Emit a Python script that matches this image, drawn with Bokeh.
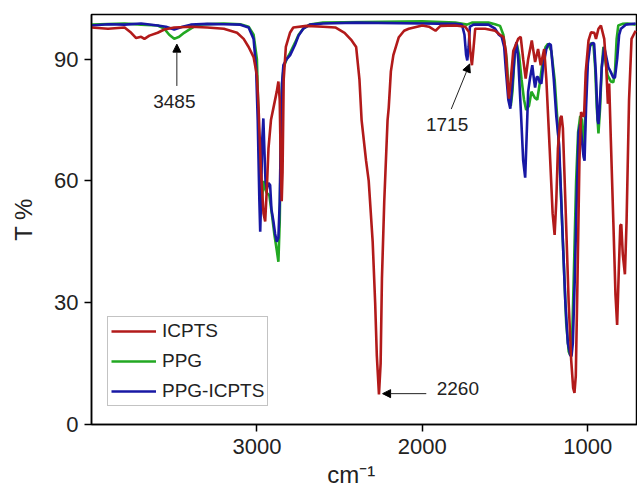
from bokeh.plotting import figure
from bokeh.models import (Range1d, FixedTicker, Legend, LegendItem, Label, Arrow, NormalHead)
from bokeh.embed import file_html
from bokeh.resources import INLINE

# ---------------- data ----------------
icpts_wn = [4000, 3900, 3800, 3760, 3730, 3700, 3680, 3650, 3600, 3560, 3500, 3400, 3300, 3200,
            3120, 3080, 3050, 3020, 3000, 2990, 2975, 2960, 2950, 2940, 2930, 2915, 2900, 2880,
            2870, 2862, 2855, 2850, 2845, 2838, 2825, 2800, 2780, 2700, 2600, 2526, 2470, 2427,
            2400, 2380, 2367, 2340, 2324, 2300, 2285, 2275, 2262, 2252, 2244, 2230, 2223, 2210,
            2203, 2190, 2175, 2142, 2110, 2082, 2000, 1960, 1920, 1890, 1800, 1740, 1718, 1710,
            1700, 1692, 1680, 1620, 1560, 1530, 1510, 1495, 1485, 1476, 1465, 1450, 1420, 1405,
            1390, 1375, 1360, 1338, 1318, 1300, 1284, 1263, 1250, 1230, 1212, 1200, 1190, 1180,
            1165, 1158, 1150, 1135, 1115, 1100, 1088, 1080, 1072, 1062, 1050, 1040, 1030, 1022,
            1012, 995, 980, 960, 950, 935, 920, 900, 888, 878, 870, 860, 845, 832, 822, 812,
            803, 797, 788, 775, 765, 750, 735, 710]
icpts_t = [97.8, 97.5, 97.8, 96.5, 95.2, 95.5, 95.0, 95.8, 96.5, 97.3, 97.8, 98.0, 97.8, 97.5,
           96.5, 95.0, 93.0, 90.5, 86.0, 78.0, 62.0, 52.0, 50.0, 58.0, 68.0, 75.0, 78.0, 82.0,
           84.5, 80.0, 62.0, 55.0, 62.0, 85.0, 93.0, 96.5, 97.8, 98.2, 98.0, 97.8, 96.5, 94.6,
           93.0, 85.0, 75.0, 65.0, 60.0, 45.0, 30.0, 17.0, 7.4, 15.0, 36.0, 55.0, 62.0, 75.0,
           78.0, 87.0, 91.0, 95.4, 97.0, 97.5, 98.3, 98.0, 97.0, 98.2, 98.3, 98.0, 96.7, 92.0,
           88.5, 92.0, 97.5, 97.5, 97.0, 96.0, 95.5, 92.0, 85.0, 80.3, 85.0, 92.0, 95.0, 95.5,
           90.0, 85.2, 90.0, 94.6, 89.3, 92.5, 88.5, 92.5, 85.0, 68.0, 52.0, 46.7, 55.0, 68.0,
           75.5, 76.0, 73.0, 55.0, 30.0, 16.0, 9.0, 7.8, 12.0, 35.0, 65.0, 77.0, 76.0, 76.0,
           86.8, 94.6, 96.6, 96.5, 95.0, 97.5, 98.3, 95.0, 88.0, 79.0, 84.0, 70.0, 50.0, 32.0,
           24.5, 38.0, 49.0, 49.3, 42.0, 37.0, 50.0, 80.0, 95.0, 97.0]

ppg_wn = [4000, 3800, 3700, 3600, 3560, 3530, 3500, 3470, 3440, 3400, 3360, 3200, 3100, 3050,
          3020, 3000, 2990, 2980, 2972, 2960, 2950, 2940, 2925, 2910, 2895, 2880, 2870, 2862,
          2855, 2848, 2838, 2820, 2800, 2770, 2748, 2720, 2680, 2600, 2000, 1800, 1730, 1700,
          1600, 1560, 1530, 1510, 1490, 1475, 1465, 1455, 1440, 1430, 1415, 1400, 1385, 1372,
          1355, 1340, 1320, 1305, 1290, 1270, 1255, 1240, 1220, 1200, 1180, 1165, 1150, 1130,
          1115, 1105, 1095, 1085, 1070, 1058, 1045, 1035, 1025, 1018, 1008, 995, 980, 965,
          955, 945, 935, 925, 915, 905, 895, 880, 860, 845, 835, 825, 815, 790, 760, 710]
ppg_t = [98.5, 98.8, 98.5, 98.3, 97.5, 96.0, 95.0, 95.5, 96.5, 97.5, 98.5, 98.8, 98.6, 98.0,
         96.0, 90.0, 75.0, 60.0, 54.0, 60.0, 58.0, 57.0, 56.5, 52.0, 47.0, 43.0, 40.1, 50.0,
         70.0, 84.0, 88.0, 90.0, 91.5, 94.0, 96.0, 97.5, 98.5, 99.0, 99.3, 99.0, 98.5, 99.0,
         99.0, 98.6, 98.2, 96.0, 90.0, 80.0, 78.5, 82.0, 92.0, 94.0, 91.0, 85.0, 80.0, 77.5,
         78.5, 82.0, 80.5, 80.0, 84.0, 90.0, 93.0, 93.8, 92.0, 85.0, 73.0, 60.0, 45.0, 25.0,
         18.0, 17.0, 20.0, 35.0, 60.0, 72.0, 76.0, 75.0, 68.0, 72.0, 86.0, 92.0, 94.0, 93.5,
         88.0, 78.0, 71.7, 78.0, 88.0, 93.0, 90.0, 86.0, 84.5, 84.3, 87.0, 95.0, 98.3, 98.7,
         98.8, 98.5]

ppgicpts_wn = [4000, 3900, 3800, 3700, 3600, 3550, 3500, 3450, 3400, 3300, 3200, 3100, 3050,
               3020, 3005, 2995, 2985, 2980, 2975, 2968, 2961, 2955, 2948, 2940, 2930, 2920,
               2912, 2900, 2890, 2880, 2870, 2862, 2855, 2848, 2840, 2820, 2799, 2770, 2748,
               2720, 2680, 2600, 2400, 2000, 1800, 1760, 1745, 1735, 1728, 1720, 1712, 1690,
               1600, 1560, 1537, 1520, 1505, 1496, 1480, 1468, 1455, 1440, 1431, 1420, 1405,
               1390, 1378, 1370, 1360, 1350, 1335, 1325, 1318, 1308, 1300, 1290, 1280, 1270,
               1250, 1235, 1223, 1205, 1190, 1173, 1150, 1135, 1120, 1105, 1098, 1090, 1078,
               1065, 1055, 1045, 1035, 1025, 1019, 1010, 999, 985, 970, 961, 950, 940, 935,
               928, 915, 900, 890, 875, 860, 845, 835, 822, 810, 799, 770, 710]
ppgicpts_t = [98.3, 98.6, 98.5, 98.8, 98.3, 98.0, 97.3, 98.0, 98.5, 98.7, 98.6, 98.5, 97.8,
              95.0, 88.0, 75.0, 55.0, 47.5, 55.0, 70.0, 75.4, 68.0, 60.0, 58.0, 59.5, 59.0,
              53.0, 50.0, 47.0, 45.0, 46.0, 55.0, 72.0, 84.0, 88.5, 90.0, 91.0, 93.5, 95.8,
              97.5, 98.5, 98.8, 99.0, 98.8, 98.7, 98.5, 96.0, 91.0, 89.7, 93.0, 98.0, 98.5,
              98.5, 97.5, 96.0, 95.5, 93.0, 88.0, 80.0, 77.8, 84.0, 92.0, 94.2, 90.0, 78.0,
              65.0, 60.8, 70.0, 82.0, 85.0, 88.5, 85.0, 83.0, 85.6, 85.6, 84.3, 84.0, 88.0,
              92.5, 93.8, 93.5, 85.0, 76.0, 69.0, 45.0, 30.0, 20.0, 17.0, 16.8, 20.0, 36.0,
              58.0, 72.0, 74.0, 70.0, 66.0, 65.0, 78.0, 89.0, 93.5, 94.0, 93.8, 86.0, 75.0,
              74.0, 78.0, 88.0, 93.0, 91.0, 88.0, 86.8, 85.4, 85.5, 90.0, 96.0, 97.5, 98.5,
              98.8]

x_ticks = [3000, 2000, 1000]
y_ticks = [0, 30, 60, 90]

# annotations: label text, label position, arrow start, arrow end
ann_labels = ["3485", "1715", "2260"]
ann_text_xy = [(3499, 79.6), (1850, 73.8), (1785, 8.9)]
ann_arrow_from = [(3484, 83.4), (1825, 77.7), (1976, 7.6)]
ann_arrow_to = [(3484, 93.7), (1714, 88.8), (2240, 7.6)]

# ---------------- figure ----------------
FONT = "Liberation Sans"
frame_w, frame_h = 546, 410
px_per_wn = 0.1654
x_end = 4000 - frame_w / px_per_wn

p = figure(frame_width=frame_w, frame_height=frame_h,
           x_range=Range1d(4000, x_end), y_range=Range1d(0, 101),
           output_backend="svg", toolbar_location=None,
           min_border_left=91, min_border_right=0, min_border_top=14, min_border_bottom=58)
p.xgrid.visible = False
p.ygrid.visible = False
p.outline_line_color = "black"
p.outline_line_width = 1.5
p.background_fill_color = "white"
p.border_fill_color = "white"

for ax in (p.xaxis[0], p.yaxis[0]):
    ax.axis_line_width = 1.5
    ax.axis_line_color = "black"
    ax.major_tick_line_color = "black"
    ax.major_tick_line_width = 1.5
    ax.major_tick_out = 7
    ax.major_tick_in = 0
    ax.minor_tick_line_color = None
    ax.major_label_text_font = FONT
    ax.major_label_text_font_size = "22px"
    ax.major_label_text_color = "#222222"
    ax.axis_label_text_font = FONT
    ax.axis_label_text_font_size = "24px"
    ax.axis_label_text_font_style = "normal"
    ax.axis_label_text_color = "#222222"

p.xaxis.ticker = FixedTicker(ticks=x_ticks)
p.yaxis.ticker = FixedTicker(ticks=y_ticks)
p.xaxis.axis_label = "cm\u207b\u00b9" + "\u00a0" * 4
p.yaxis.axis_label = "T %"
p.xaxis.major_label_standoff = 7
p.yaxis.major_label_standoff = 6
p.xaxis.axis_label_standoff = 4
p.yaxis.axis_label_standoff = 14

LW = 2.6
r_ppg = p.line(ppg_wn, ppg_t, line_color="#22a822", line_width=LW)
r_blue = p.line(ppgicpts_wn, ppgicpts_t, line_color="#1818a4", line_width=LW)
r_red = p.line(icpts_wn, icpts_t, line_color="#b21a1a", line_width=LW)

legend = Legend(items=[LegendItem(label="ICPTS", renderers=[r_red]),
                       LegendItem(label="PPG", renderers=[r_ppg]),
                       LegendItem(label="PPG-ICPTS", renderers=[r_blue])],
                location=(16, 18), orientation="vertical",
                label_text_font=FONT, label_text_font_size="19px", label_text_color="#222222",
                glyph_width=45, glyph_height=22, label_height=22, label_standoff=6,
                spacing=8, padding=3, margin=0,
                border_line_color="#888888", border_line_width=1,
                background_fill_color="white", background_fill_alpha=1.0)
p.add_layout(legend, "center")

for lab, (tx, ty), (x0, y0), (x1, y1) in zip(ann_labels, ann_text_xy, ann_arrow_from, ann_arrow_to):
    p.add_layout(Arrow(end=NormalHead(size=8, fill_color="black", line_color="black", line_width=1),
                       x_start=x0, y_start=y0, x_end=x1, y_end=y1,
                       line_color="#222222", line_width=1))
    p.add_layout(Label(x=tx, y=ty, text=lab, text_font=FONT, text_font_size="19px",
                       text_color="#222222", text_align="center", text_baseline="middle"))

open("out.html", "w").write(file_html(p, INLINE))
